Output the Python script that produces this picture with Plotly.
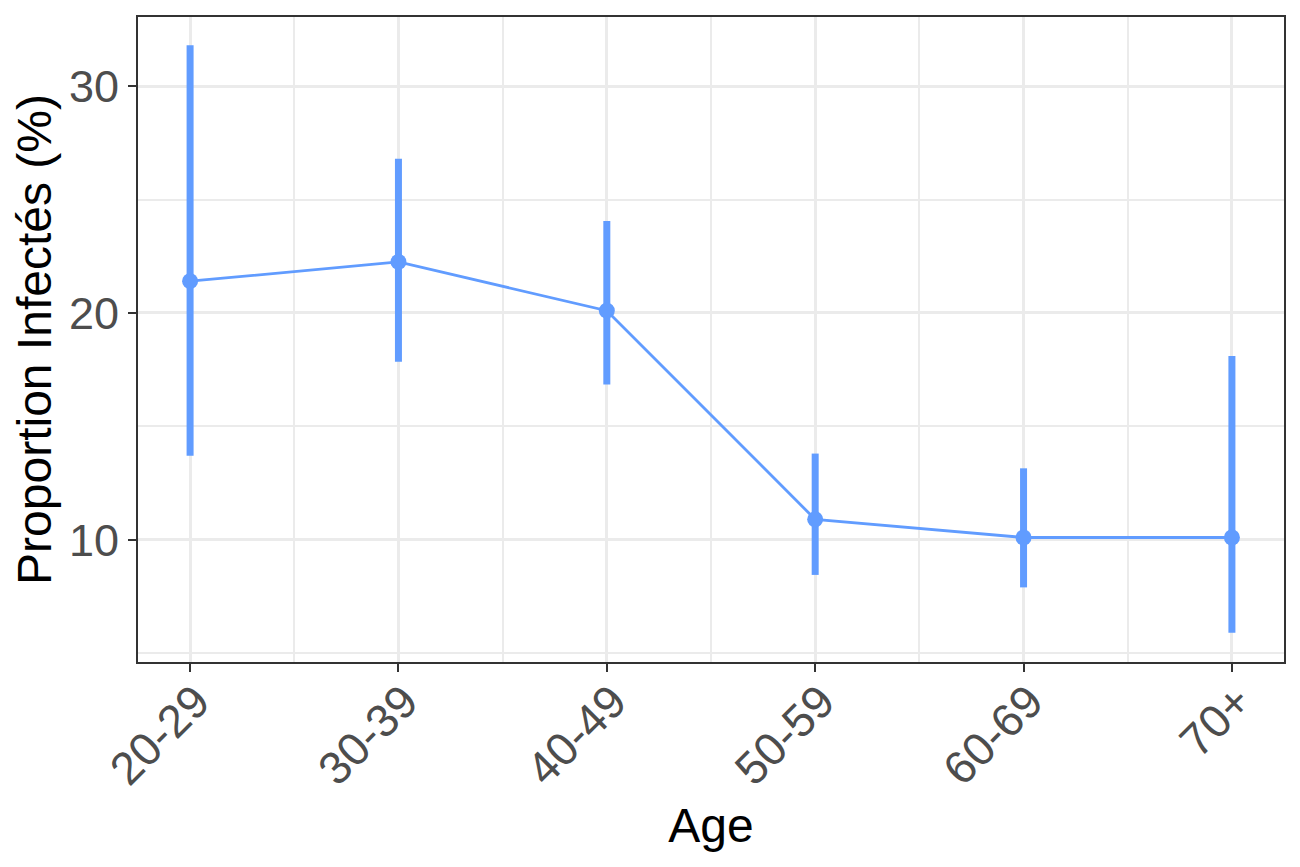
import plotly.graph_objects as go

# age groups and estimated proportions (with 95% interval bounds)
age_groups = ["20-29", "30-39", "40-49", "50-59", "60-69", "70+"]
proportion = [21.4, 22.25, 20.1, 10.9, 10.1, 10.1]
lower = [13.7, 17.85, 16.85, 8.45, 7.9, 5.9]
upper = [31.8, 26.8, 24.05, 13.8, 13.15, 18.1]

y_ticks = [10, 20, 30]

BLUE = "#619CFF"
GRID = "#EBEBEB"
INK = "#333333"
FONT = "Liberation Sans, Arial, sans-serif"

x_pos = list(range(1, len(age_groups) + 1))

fig = go.Figure()
fig.add_trace(
    go.Scatter(
        x=x_pos,
        y=proportion,
        mode="lines+markers",
        line=dict(color=BLUE, width=2.8),
        marker=dict(color=BLUE, size=16),
        error_y=dict(
            type="data",
            symmetric=False,
            array=[u - p for u, p in zip(upper, proportion)],
            arrayminus=[p - lo for p, lo in zip(proportion, lower)],
            color=BLUE,
            thickness=7,
            width=0,
        ),
        showlegend=False,
    )
)

axis_common = dict(
    showline=True,
    mirror=True,
    linecolor=INK,
    linewidth=2,
    ticks="outside",
    ticklen=8,
    tickwidth=2,
    tickcolor=INK,
    showgrid=True,
    gridcolor=GRID,
    gridwidth=2.8,
    zeroline=False,
    tickfont=dict(family=FONT, size=45, color="#4D4D4D"),
)

# page body has an 8px margin, so the figure is sized to fit inside it
fig.update_layout(
    width=1284,
    height=851,
    margin=dict(l=130, r=8, t=9, b=197),
    paper_bgcolor="white",
    plot_bgcolor="white",
    xaxis=dict(
        axis_common,
        range=[0.75, 6.25],
        tickvals=x_pos,
        ticktext=age_groups,
        tickangle=-45,
        tickfont=dict(family=FONT, size=46, color="#4D4D4D"),
        ticklabelstandoff=-16,
        ticklabelshift=6,
        minor=dict(tick0=0.5, dtick=1, showgrid=True, gridcolor=GRID, gridwidth=1.6),
        title=dict(text="Age", font=dict(family=FONT, size=48, color="black"), standoff=15),
        automargin=False,
    ),
    yaxis=dict(
        axis_common,
        range=[4.61, 33.05],
        tickvals=y_ticks,
        minor=dict(tick0=5, dtick=5, showgrid=True, gridcolor=GRID, gridwidth=1.6),
        title=dict(
            text="Proportion Infectés (%)",
            font=dict(family=FONT, size=48, color="black"),
            standoff=8,
        ),
        automargin=False,
    ),
)

fig.write_html("out.html")
